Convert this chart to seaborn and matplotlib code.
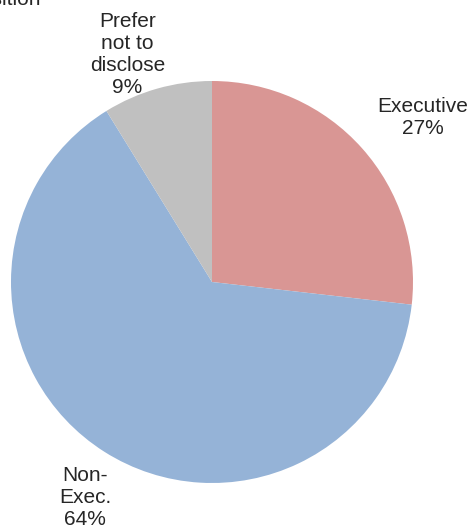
import matplotlib
matplotlib.use("Agg")
import matplotlib.pyplot as plt
import seaborn as sns

# 데이터 (조각 각도에서 읽은 값, 라벨은 반올림)
categories = ["Executive", "Non-\nExec.", "Prefer\nnot to\ndisclose"]
shares = [26.8, 64.4, 8.8]
colors = ["#D99694", "#95B3D7", "#C0C0C0"]

sns.set_theme(style="white")
plt.rcParams["font.family"] = ["Liberation Sans", "DejaVu Sans"]

fig = plt.figure(figsize=(4.72, 5.30), dpi=100)
cx, cy, r = 212, 282, 201
ax = fig.add_axes([(cx - r) / 472, (530 - cy - r) / 530, 2 * r / 472, 2 * r / 530])

ax.pie(
    shares,
    colors=colors,
    startangle=90,
    counterclock=False,
    radius=1,
    wedgeprops={"linewidth": 0},
)
ax.set_xlim(-1, 1)
ax.set_ylim(-1, 1)
ax.set_aspect("equal")
ax.axis("off")

# 라벨 위치 (데이터 좌표)
label_pos = [(1.05, 0.82), (-0.63, -1.07), (-0.42, 1.13)]
for name, val, (lx, ly) in zip(categories, shares, label_pos):
    ax.text(lx, ly, f"{name}\n{round(val)}%", ha="center", va="center",
            fontsize=15, linespacing=1.2, clip_on=False)

# 잘린 제목
fig.text(41 / 472, 1 - 5 / 530, "Position", ha="right", va="baseline", fontsize=15)

fig.savefig("out.png", dpi=100)
